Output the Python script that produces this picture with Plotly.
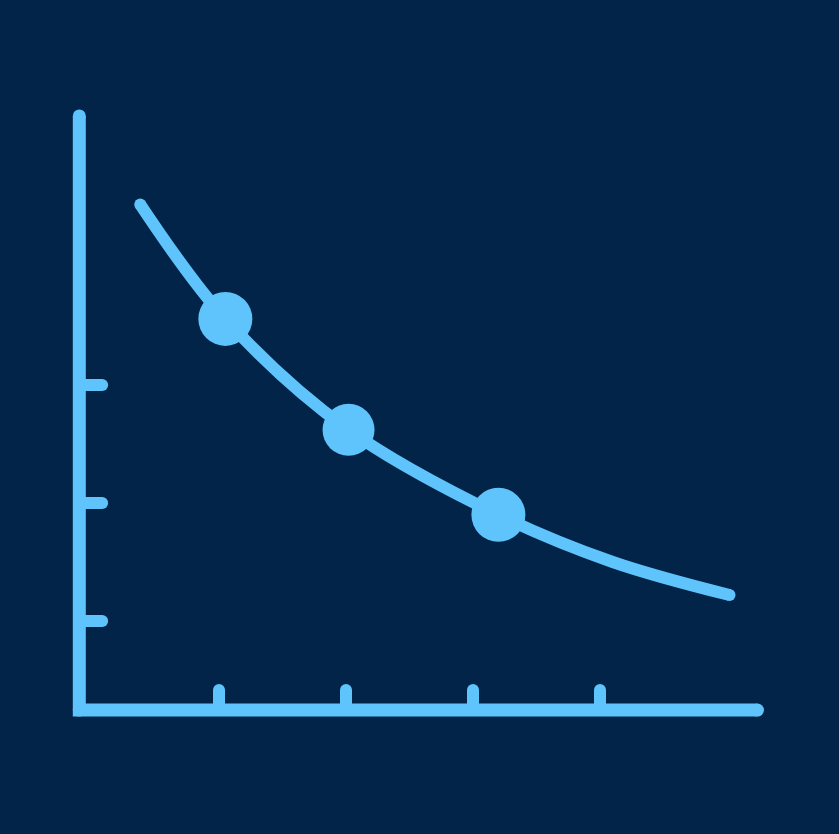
import plotly.graph_objects as go

# ---- data (logical units) ----
curve_x = [0.38, 1.05, 2.02, 3.20, 4.10, 5.02]
curve_y = [4.53, 3.56, 2.62, 1.90, 1.50, 1.22]
point_x = [1.05, 2.02, 3.20]
point_y = [3.56, 2.62, 1.90]
point_size = [54, 52, 54]
x_ticks = [1, 2, 3, 4]
y_ticks = [1, 2, 3]

# axis extents
axis_x0, axis_x1 = -0.10, 5.24
axis_y0, axis_y1 = 0.245, 5.28
ytick_len = 0.18
xtick_len = 0.17

BG = "#012448"
FG = "#5fc4fb"
LW = 13

fig = go.Figure()

def seg(xs, ys, w=LW):
    fig.add_trace(go.Scatter(
        x=xs, y=ys, mode="lines+markers",
        line=dict(color=FG, width=w),
        marker=dict(color=FG, size=w, opacity=1, line=dict(width=0)),
        hoverinfo="skip", showlegend=False))

# axes (L shape)
seg([axis_x0, axis_x0, axis_x1], [axis_y1, axis_y0, axis_y0])
# y ticks
for t in y_ticks:
    seg([axis_x0, axis_x0 + ytick_len], [t, t], w=12)
# x ticks
for t in x_ticks:
    seg([t, t], [axis_y0, axis_y0 + xtick_len], w=12)

# curve
fig.add_trace(go.Scatter(
    x=curve_x, y=curve_y, mode="lines",
    line=dict(color=FG, width=12, shape="spline", smoothing=1.0),
    hoverinfo="skip", showlegend=False))
# round ends of curve
fig.add_trace(go.Scatter(
    x=[curve_x[0], curve_x[-1]], y=[curve_y[0], curve_y[-1]], mode="markers",
    marker=dict(color=FG, size=12, opacity=1, line=dict(width=0)),
    hoverinfo="skip", showlegend=False))
# points
fig.add_trace(go.Scatter(
    x=point_x, y=point_y, mode="markers",
    marker=dict(color=FG, size=point_size, opacity=1, line=dict(width=0)),
    hoverinfo="skip", showlegend=False))

fig.update_layout(
    width=839, height=834,
    margin=dict(l=0, r=0, t=0, b=0),
    paper_bgcolor=BG, plot_bgcolor=BG,
    xaxis=dict(range=[-92/127, 747/127], visible=False, fixedrange=True),
    yaxis=dict(range=[-95/118, 739/118], visible=False, fixedrange=True),
)

fig.write_html("out.html", config={"displayModeBar": False, "responsive": False},
               post_script="document.body.style.margin='0';document.body.style.background='%s';" % BG)
